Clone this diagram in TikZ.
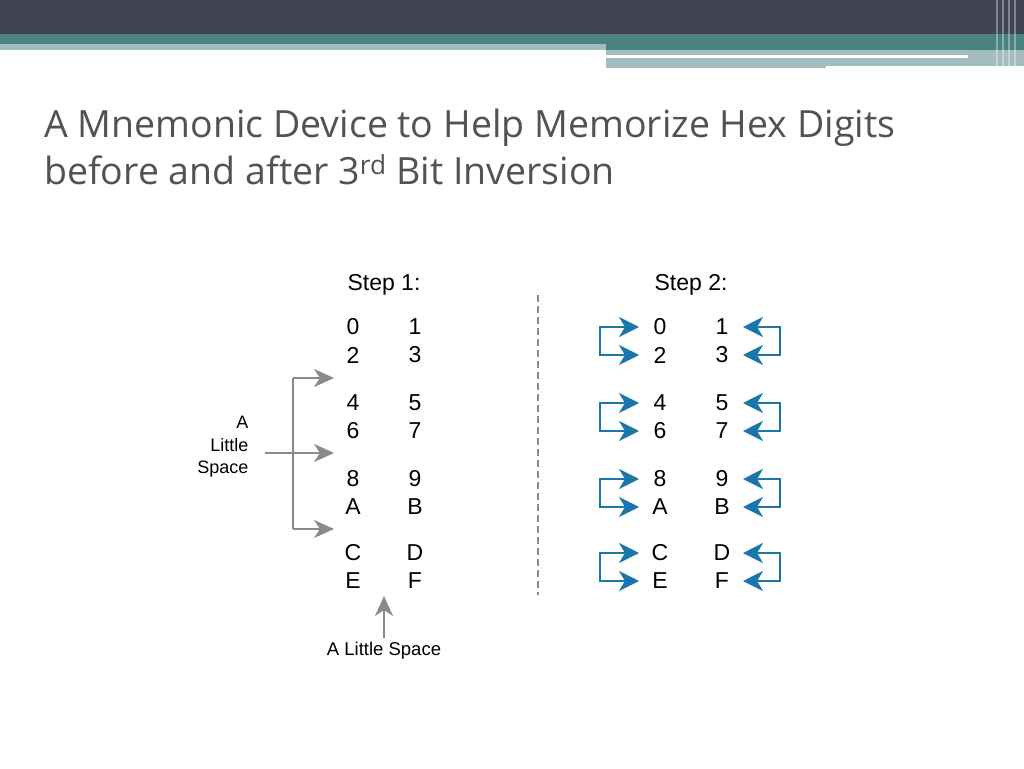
\documentclass[tikz,border=0pt]{standalone}
\usepackage{fontspec}
\setmainfont{Liberation Sans}
\newfontfamily\titlefont{Open Sans}
\usetikzlibrary{arrows.meta}
\definecolor{hdr}{HTML}{434356}
\definecolor{teal}{HTML}{4A8282}
\definecolor{lteal}{HTML}{A3BDBF}
\definecolor{blu}{HTML}{1B76A9}
\definecolor{gry}{HTML}{8A8A8A}
\begin{document}
\begin{tikzpicture}[x=1pt,y=-1pt,
  dig/.style={font=\fontsize{23}{25}\selectfont,anchor=center},
  barr/.style={blu,line width=2.2pt,-{Stealth[length=20pt,width=20pt,inset=6pt]}},
  garr/.style={gry,line width=2pt,-{Stealth[length=20pt,width=18pt,inset=6pt]}}]
\useasboundingbox (0,0) rectangle (1024,768);
\fill[white] (0,0) rectangle (1024,768);
\fill[hdr] (0,0) rectangle (1024,34);
\fill[teal] (0,34) rectangle (1024,44);
\fill[lteal] (0,44) rectangle (606,50);
\fill[teal] (606,44) rectangle (1024,50);
\fill[lteal] (606,50) rectangle (1024,68);
\fill[white] (606,55) rectangle (968,58);
\fill[white] (826,66) rectangle (1024,68);
\foreach \x in {996,1002,1008,1014}{\fill[white,opacity=0.35] (\x,0) rectangle (\x+1.5,68);}
\node[anchor=base west,inner sep=0pt,text=black!68,font=\titlefont\fontsize{37.5}{40}\selectfont] (title) at (44,137) {A Mnemonic Device to Help Memorize Hex Digits};
\node[anchor=base west,inner sep=0pt,text=black!68,font=\titlefont\fontsize{37.5}{40}\selectfont] (title2) at (44,184) {before and after 3\textsuperscript{rd} Bit Inversion};
\node[dig] (s1) at (384,285) {Step 1:};
\node[dig] (s2) at (691,285) {Step 2:};
\draw[gry,line width=2pt,dash pattern=on 7pt off 4pt] (538,295) -- (538,595);
\foreach \a/\b/\y [count=\i] in {0/1/327,2/3/355,4/5/403,6/7/431,8/9/479,A/B/507,C/D/553,E/F/581}{
  \node[dig] (l\i) at (353,\y) {\a};
  \node[dig] (r\i) at (415,\y) {\b};
  \node[dig] (L\i) at (660,\y) {\a};
  \node[dig] (R\i) at (722,\y) {\b};
  \coordinate (la\i) at (639,\y);
  \coordinate (ra\i) at (743,\y);
}
\foreach \t/\u in {1/2,3/4,5/6,7/8}{
  \draw[blu,line width=2.2pt] (615,0|-la\t) -- (600,0|-la\t) -- (600,0|-la\u) -- (615,0|-la\u);
  \draw[barr] (612,0|-la\t) -- (la\t);
  \draw[barr] (612,0|-la\u) -- (la\u);
  \draw[blu,line width=2.2pt] (766,0|-ra\t) -- (780,0|-ra\t) -- (780,0|-ra\u) -- (766,0|-ra\u);
  \draw[barr] (769,0|-ra\t) -- (ra\t);
  \draw[barr] (769,0|-ra\u) -- (ra\u);
}
\coordinate (g1) at (334,378);
\coordinate (g2) at (334,453);
\coordinate (g3) at (334,529);
\draw[gry,line width=2pt] (293,378) -- (293,529);
\draw[garr] (293,378) -- (g1);
\draw[garr] (293,529) -- (g3);
\node[font=\fontsize{18}{22.5}\selectfont,align=right,anchor=east] (lab) at (252,447) {A\\Little\\Space};
\draw[garr] (265,453) -- (g2);
\node[font=\fontsize{18.5}{20}\selectfont] (lab2) at (384,651) {A Little Space};
\coordinate (g4) at (384,596);
\draw[garr] (384,638) -- (g4);
\end{tikzpicture}
\end{document}
